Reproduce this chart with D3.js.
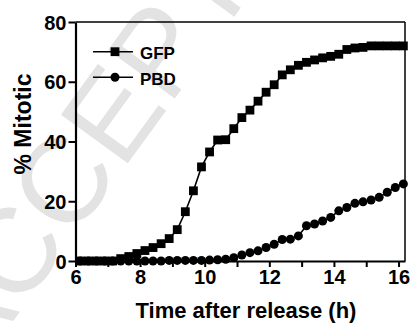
<!DOCTYPE html>
<html>
<head>
<meta charset="utf-8">
<script src="https://cdn.jsdelivr.net/npm/d3@7"></script>
<style>
  body { margin: 0; background: #fff; }
  text { font-family: Arial, "Liberation Sans", Helvetica, sans-serif; font-weight: bold; }
</style>
</head>
<body>
<div id="chart"></div>
<script>
// sampling times (h) and % mitotic for each condition
var times = [6.15, 6.4, 6.65, 6.9, 7.15, 7.4, 7.65, 7.9, 8.15, 8.4, 8.65, 8.9, 9.15, 9.4,
  9.65, 9.9, 10.15, 10.4, 10.65, 10.9, 11.15, 11.4, 11.65, 11.9, 12.15, 12.4, 12.65, 12.9,
  13.15, 13.4, 13.65, 13.9, 14.15, 14.4, 14.65, 14.9, 15.15, 15.4, 15.65, 15.9, 16.15];
var gfp = [0, 0, 0, 0, 0, 0.8, 1.5, 2.5, 3.5, 4.5, 5.8, 7.5, 10.5, 16.5,
  23.5, 31.5, 36.5, 40.5, 40.6, 44.3, 48, 50.5, 53.5, 56.5, 59, 62.3, 64, 65.5,
  66.5, 67.3, 68, 68.5, 69.2, 70.8, 71.3, 71.5, 72, 72, 72, 72, 72];
var pbd = [0, 0, 0, 0, 0, 0, 0, 0, 0, 0, 0, 0.2, 0.2, 0.2,
  0.2, 0.2, 0.3, 0.4, 0.6, 1.1, 2.0, 2.8, 3.4, 4.5, 5.6, 7.2, 7.3, 8.4,
  11.8, 12.4, 13.4, 14.6, 16.8, 17.9, 19.3, 19.8, 20.4, 21.3, 23, 24.6, 25.8];
var xTicks = [6, 7, 8, 9, 10, 11, 12, 13, 14, 15, 16];
var yTicks = [0, 20, 40, 60, 80];
var seriesNames = ["GFP", "PBD"];

var w = 414, h = 325;
var svg = d3.select("#chart").append("svg")
  .attr("width", w).attr("height", h);

// faint watermark in the background
svg.append("text")
  .attr("transform", "translate(165,112) rotate(-54)")
  .attr("text-anchor", "middle")
  .attr("font-size", 120)
  .style("font-weight", "normal")
  .attr("fill", "#e3e3e3")
  .text("ACCEPTED");

var xScale = d3.scaleLinear().domain([6, 16.2]).range([75.5, 405]);
var yScale = d3.scaleLinear().domain([0, 80]).range([261, 22]);

// frame top + right
svg.append("line").attr("x1", 75.5).attr("x2", 405).attr("y1", 22).attr("y2", 22)
  .attr("stroke", "#000").attr("stroke-width", 1.5);
svg.append("line").attr("x1", 405).attr("x2", 405).attr("y1", 22).attr("y2", 261)
  .attr("stroke", "#000").attr("stroke-width", 1.5);

var xAxis = svg.append("g")
  .attr("transform", "translate(0,261)")
  .call(d3.axisBottom(xScale).tickValues(xTicks).tickSize(6).tickSizeOuter(0).tickPadding(3)
    .tickFormat(function(d) { return d % 2 == 0 ? d : ""; }));
var yAxis = svg.append("g")
  .attr("transform", "translate(75.5,0)")
  .call(d3.axisLeft(yScale).tickValues(yTicks).tickSize(7).tickSizeOuter(0).tickPadding(2));

[xAxis, yAxis].forEach(function(a) {
  a.select(".domain").attr("stroke-width", 2.2);
  a.selectAll(".tick line").attr("stroke-width", 2);
  a.selectAll(".tick text").attr("font-size", 20).attr("fill", "#000")
    .style("font-family", "Arial, 'Liberation Sans', sans-serif");
});
yAxis.selectAll(".tick text").attr("dy", "0.36em");

// series
var line = d3.line()
  .x(function(d, i) { return xScale(times[i]); })
  .y(function(d) { return yScale(d); });

svg.append("path").datum(pbd).attr("d", line)
  .attr("fill", "none").attr("stroke", "#000").attr("stroke-width", 1.6);
svg.selectAll("circle.pbd").data(pbd).enter().append("circle")
  .attr("class", "pbd")
  .attr("cx", function(d, i) { return xScale(times[i]); })
  .attr("cy", function(d) { return yScale(d); })
  .attr("r", 4.5).attr("fill", "#000");

svg.append("path").datum(gfp).attr("d", line)
  .attr("fill", "none").attr("stroke", "#000").attr("stroke-width", 1.6);
svg.selectAll("rect.gfp").data(gfp).enter().append("rect")
  .attr("class", "gfp")
  .attr("x", function(d, i) { return xScale(times[i]) - 4.4; })
  .attr("y", function(d) { return yScale(d) - 4.4; })
  .attr("width", 8.8).attr("height", 8.8).attr("fill", "#000");

// legend
var leg = svg.append("g");
seriesNames.forEach(function(name, i) {
  var ly = 51.7 + i * 25.6;
  leg.append("line").attr("x1", 93).attr("x2", 133).attr("y1", ly).attr("y2", ly)
    .attr("stroke", "#000").attr("stroke-width", 1.6);
  if (i == 0) {
    leg.append("rect").attr("x", 115 - 4.4).attr("y", ly - 4.4)
      .attr("width", 8.8).attr("height", 8.8).attr("fill", "#000");
  } else {
    leg.append("circle").attr("cx", 115).attr("cy", ly).attr("r", 4.5).attr("fill", "#000");
  }
  leg.append("text").attr("x", 140).attr("y", ly + 7.3)
    .attr("font-size", 17).text(name);
});

// axis titles
svg.append("text")
  .attr("x", 246).attr("y", 318)
  .attr("text-anchor", "middle")
  .attr("font-size", 22)
  .text("Time after release (h)");
svg.append("text")
  .attr("transform", "translate(31,124) rotate(-90)")
  .attr("text-anchor", "middle")
  .attr("font-size", 23)
  .text("% Mitotic");
</script>
</body>
</html>
